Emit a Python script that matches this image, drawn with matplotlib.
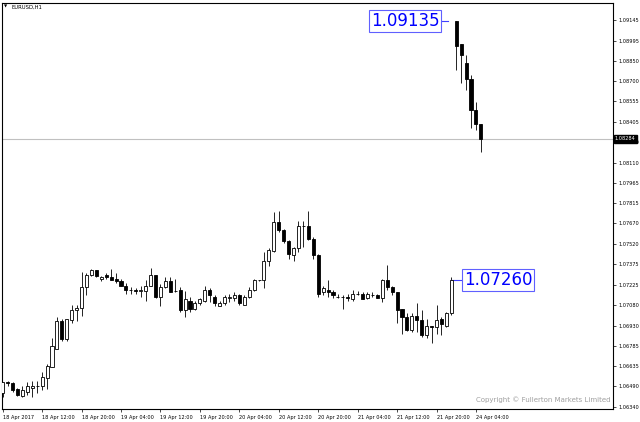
import matplotlib
matplotlib.use("Agg")
import matplotlib.pyplot as plt
import matplotlib.transforms as mtransforms

# EURUSD H1 candles, 18 Apr 2017 04:00 .. 24 Apr 2017 05:00
opens = [1.0644, 1.0652, 1.0651, 1.0647, 1.0642, 1.0645, 1.0648, 1.0649, 1.0649, 1.0655,
         1.0663, 1.0676, 1.0696, 1.0683, 1.0697, 1.0704, 1.0706, 1.0721, 1.0730, 1.0733,
         1.0727, 1.0730, 1.0728, 1.0727, 1.0725, 1.0722, 1.0719, 1.0719, 1.0718, 1.0718,
         1.0722, 1.0730, 1.0714, 1.0721, 1.0725, 1.0718, 1.0719, 1.0704, 1.0711, 1.0705,
         1.0709, 1.0711, 1.0719, 1.0714, 1.0707, 1.0709, 1.0713, 1.0713, 1.0715, 1.0708,
         1.0714, 1.0719, 1.0726, 1.0726, 1.0740, 1.0747, 1.0768, 1.0762, 1.0754, 1.0744,
         1.0749, 1.0765, 1.0765, 1.0756, 1.0744, 1.0717, 1.0719, 1.0717, 1.0714, 1.0714,
         1.0714, 1.0712, 1.0716, 1.0716, 1.0713, 1.0715, 1.0715, 1.0713, 1.0726, 1.0721,
         1.0717, 1.0705, 1.0699, 1.0690, 1.0700, 1.0697, 1.0686, 1.0693, 1.0692, 1.0698,
         1.0693, 1.0702, 1.09135, 1.0897, 1.0883, 1.0872, 1.0849, 1.0839]
highs = [1.0652, 1.0653, 1.0652, 1.0648, 1.0649, 1.0652, 1.0653, 1.0653, 1.0659, 1.0665,
         1.0684, 1.0699, 1.0698, 1.0698, 1.0708, 1.0708, 1.0732, 1.0731, 1.0734, 1.0733,
         1.0729, 1.0731, 1.0734, 1.0731, 1.0727, 1.0724, 1.0721, 1.0720, 1.0722, 1.0726,
         1.0735, 1.0730, 1.0723, 1.0728, 1.0728, 1.0727, 1.0721, 1.0718, 1.0714, 1.0711,
         1.0713, 1.0722, 1.0720, 1.0715, 1.0711, 1.0715, 1.0716, 1.0717, 1.0716, 1.0715,
         1.0721, 1.0727, 1.0726, 1.0746, 1.0749, 1.0775, 1.0776, 1.0763, 1.0755, 1.0750,
         1.0769, 1.0769, 1.0776, 1.0757, 1.0745, 1.0722, 1.0726, 1.0719, 1.0716, 1.0715,
         1.0716, 1.0719, 1.0718, 1.0717, 1.0717, 1.0717, 1.0716, 1.0727, 1.0737, 1.0722,
         1.0717, 1.0705, 1.0702, 1.0702, 1.0709, 1.0704, 1.0698, 1.0693, 1.0708, 1.0699,
         1.0703, 1.0728, 1.0914, 1.0897, 1.0889, 1.0875, 1.0855, 1.0839]
lows = [1.0641, 1.0649, 1.0645, 1.0642, 1.0641, 1.0643, 1.0641, 1.0644, 1.0646, 1.0647,
        1.0663, 1.0676, 1.0682, 1.0682, 1.0695, 1.0696, 1.0700, 1.0715, 1.0729, 1.0728,
        1.0725, 1.0727, 1.0726, 1.0724, 1.0722, 1.0716, 1.0716, 1.0716, 1.0714, 1.0711,
        1.0722, 1.0713, 1.0707, 1.0720, 1.0717, 1.0717, 1.0703, 1.0699, 1.0703, 1.0704,
        1.0708, 1.0710, 1.0710, 1.0707, 1.0707, 1.0708, 1.0710, 1.0711, 1.0708, 1.0708,
        1.0713, 1.0718, 1.0725, 1.0720, 1.0736, 1.0746, 1.0761, 1.0753, 1.0741, 1.0740,
        1.0746, 1.0750, 1.0755, 1.0741, 1.0714, 1.0715, 1.0714, 1.0713, 1.0713, 1.0705,
        1.0711, 1.0711, 1.0715, 1.0712, 1.0712, 1.0714, 1.0713, 1.0710, 1.0719, 1.0715,
        1.0695, 1.0687, 1.0689, 1.0688, 1.0688, 1.0685, 1.0684, 1.0680, 1.0687, 1.0686,
        1.0692, 1.0701, 1.0878, 1.0869, 1.0864, 1.0836, 1.0835, 1.0819]
closes = [1.0652, 1.0651, 1.0646, 1.0643, 1.0646, 1.0649, 1.0649, 1.0649, 1.0656, 1.0664,
          1.0678, 1.0696, 1.0683, 1.0698, 1.0704, 1.0706, 1.0721, 1.0730, 1.0733, 1.0729,
          1.0728, 1.0728, 1.0726, 1.0725, 1.0722, 1.0719, 1.0719, 1.0718, 1.0719, 1.0722,
          1.0730, 1.0714, 1.0721, 1.0725, 1.0717, 1.0718, 1.0704, 1.0712, 1.0705, 1.0709,
          1.0712, 1.0719, 1.0715, 1.0709, 1.0709, 1.0714, 1.0714, 1.0715, 1.0709, 1.0714,
          1.0719, 1.0726, 1.0726, 1.0740, 1.0748, 1.0768, 1.0762, 1.0754, 1.0745, 1.0749,
          1.0765, 1.0765, 1.0756, 1.0744, 1.0716, 1.0720, 1.0717, 1.0715, 1.0714, 1.0714,
          1.0713, 1.0716, 1.0716, 1.0712, 1.0716, 1.0715, 1.0713, 1.0726, 1.0721, 1.0717,
          1.0704, 1.0699, 1.0690, 1.0700, 1.0697, 1.0686, 1.0693, 1.0692, 1.0697, 1.0694,
          1.0702, 1.0726, 1.0896, 1.0889, 1.0872, 1.0849, 1.0839, 1.08284]

yticks = [1.06340, 1.06490, 1.06635, 1.06785, 1.06930, 1.07080, 1.07225, 1.07375, 1.07520,
          1.07670, 1.07815, 1.07965, 1.08110, 1.08260, 1.08405, 1.08555, 1.08700, 1.08850,
          1.08995, 1.09145]
xtick_labels = ["18 Apr 2017", "18 Apr 12:00", "18 Apr 20:00", "19 Apr 04:00", "19 Apr 12:00",
                "19 Apr 20:00", "20 Apr 04:00", "20 Apr 12:00", "20 Apr 20:00", "21 Apr 04:00",
                "21 Apr 12:00", "21 Apr 20:00", "24 Apr 04:00"]
label_bar_step = 8
last_price = 1.08284
gap_open = 1.09135
friday_close = 1.07260

fig = plt.figure(figsize=(6.4, 4.22), dpi=100)
ax = fig.add_axes([2 / 640, 1 - 409 / 422, 611 / 640, 406.5 / 422])

# candles: wick first, then body over it
for i in range(len(opens)):
    o, h, l, c = opens[i], highs[i], lows[i], closes[i]
    ax.vlines(i, l, h, color="black", linewidth=0.6, zorder=2)
    bottom = min(o, c)
    height = max(abs(c - o), 0.000005)
    face = "white" if c >= o else "black"
    ax.bar(i, height, bottom=bottom, width=0.62, color=face, edgecolor="black",
           linewidth=0.6, zorder=3)

# bid line
ax.axhline(last_price, color="#c0c0c0", linewidth=0.8, zorder=1)

ax.set_xlim(-0.14, 123.8)
ax.set_ylim(1.06325, 1.09272)

# axes look like MT4
for s in ax.spines.values():
    s.set_linewidth(0.8)
    s.set_color("black")
ax.yaxis.tick_right()
ax.set_yticks(yticks)
ax.set_yticklabels(["%.5f" % v for v in yticks])
ax.tick_params(axis="y", direction="out", length=2.5, width=0.5, labelsize=3.6, pad=1.5)
ax.set_xticks([k * label_bar_step for k in range(len(xtick_labels))])
ax.set_xticklabels(xtick_labels)
ax.tick_params(axis="x", direction="out", length=2.5, width=0.5, labelsize=3.6, pad=1.5)
plt.setp(ax.get_xticklabels(), ha="left")

# current price tag on the right axis
trans = mtransforms.blended_transform_factory(ax.transAxes, ax.transData)
ax.text(1.003, last_price, "%.5f" % last_price, transform=trans, fontsize=3.6,
        color="white", va="center", ha="left",
        bbox=dict(boxstyle="square,pad=0.25", facecolor="black", edgecolor="black"),
        zorder=5)

# price labels placed on the chart
ax.plot([88.9, 90.3], [gap_open, gap_open], color="#4040ff", linewidth=0.8)
ax.text(88.6, gap_open, "%.5f" % gap_open, fontsize=12, color="#0000ff",
        ha="right", va="center",
        bbox=dict(boxstyle="square,pad=0.12", facecolor="white", edgecolor="#6060ff",
                  linewidth=0.8))
ax.plot([91, 93.2], [friday_close, friday_close], color="#4040ff", linewidth=0.8)
ax.text(93.5, friday_close, "%.5f" % friday_close, fontsize=12, color="#0000ff",
        ha="left", va="center",
        bbox=dict(boxstyle="square,pad=0.12", facecolor="white", edgecolor="#6060ff",
                  linewidth=0.8))

# header and watermark
fig.text(4 / 640, 1 - 7 / 422, "\u25bc", fontsize=3, va="center", ha="left")
fig.text(11 / 640, 1 - 7 / 422, "EURUSD,H1", fontsize=3.8, va="center", ha="left")
fig.text(610 / 640, 1 - 400 / 422, "Copyright \u00a9 Fullerton Markets Limited",
         fontsize=5, color="#a0a0a0", va="center", ha="right")

fig.savefig("out.png", dpi=100)
